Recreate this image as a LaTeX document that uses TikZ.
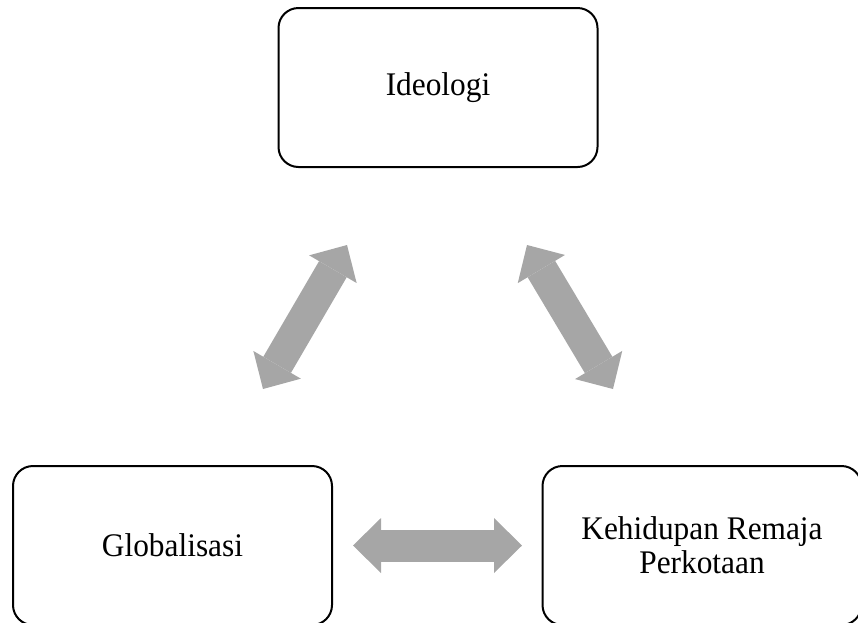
\documentclass[tikz,border=0pt]{standalone}
\usepackage{fontspec}
\setmainfont{Liberation Serif}[FakeStretch=0.95]
\usepackage{xcolor}
\usepackage{tikz}
\usetikzlibrary{arrows.meta}
\definecolor{boxCol}{RGB}{0,0,0}
\definecolor{arrCol}{RGB}{166,166,166}
\tikzset{
  topic/.style={rounded corners=20pt, draw=boxCol, line width=2pt, align=center,
                font=\fontsize{33}{34}\selectfont, minimum width=319pt,
                minimum height=159pt, inner sep=0pt},
  link/.style={{Triangle[length=28pt,width=55pt,line width=0pt]}-{Triangle[length=28pt,width=55pt,line width=0pt]},
               line width=32pt, arrCol},
}
\begin{document}
\begin{tikzpicture}[x=1pt, y=-1pt]
  \useasboundingbox (0,0) rectangle (858,622);
  \clip (0,0) rectangle (858,622);
  % three topics
  \node[topic] (ideo)  at (438,87.5)  {Ideologi};
  \node[topic] (glob)  at (172.5,545.5) {Globalisasi};
  \node[topic] (kehid) at (702,545.5) {Kehidupan Remaja\\Perkotaan};

  % arrow ends
  \coordinate (gi) at (263,389);
  \coordinate (ig) at (347,245);
  \coordinate (ik) at (527,245);
  \coordinate (ki) at (613,389);
  \coordinate (gk) at (353,545.5);
  \coordinate (kg) at (522,545.5);

  % two-way links
  \draw[link] (gi) -- (ig);
  \draw[link] (ik) -- (ki);
  \draw[link] (gk) -- (kg);
\end{tikzpicture}
\end{document}
